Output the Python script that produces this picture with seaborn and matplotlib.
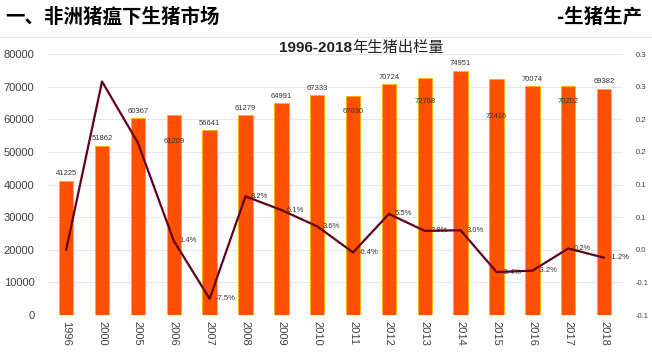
import numpy as np
import pandas as pd
import seaborn as sns
import matplotlib.pyplot as plt

# data
years = ['1996', '2000', '2005', '2006', '2007', '2008', '2009', '2010',
         '2011', '2012', '2013', '2014', '2015', '2016', '2017', '2018']
output = [41225, 51862, 60367, 61209, 56641, 61279, 64991, 67333,
          67030, 70724, 72768, 74951, 72416, 70074, 70202, 69382]
growth = [0.0, 0.258, 0.164, 0.014, -0.075, 0.082, 0.061, 0.036,
          -0.004, 0.055, 0.029, 0.030, -0.034, -0.032, 0.002, -0.012]
growth_labels = ['', '', '', '1.4%', '-7.5%', '8.2%', '6.1%', '3.6%',
                 '-0.4%', '5.5%', '2.9%', '3.0%', '-3.4%', '-3.2%', '0.2%', '-1.2%']
right_ticks = [-0.1, -0.05, 0.0, 0.05, 0.1, 0.15, 0.2, 0.25, 0.3]
right_tick_labels = ['-0.1', '-0.1', '0.0', '0.1', '0.1', '0.2', '0.2', '0.3', '0.3']

# label placement (points, vertical offset from bar top) - the original is a bit messy
bar_label_dy = [5, 5, 5, -19, 5, 5, 5, 5, -11, 5, -17, 5, -27, 5, -11, 5]

df = pd.DataFrame({'year': years, 'output': output, 'growth': growth})
df['pos'] = range(len(df))

sns.set_theme(style='white')
plt.rcParams['font.family'] = ['Liberation Sans', 'Noto Sans CJK SC', 'DejaVu Sans']

fig = plt.figure(figsize=(6.52, 3.56), dpi=100)
ax = fig.add_axes([0.074, 0.115, 0.88, 0.733])

sns.barplot(data=df, x='year', y='output', color='#FF5000', saturation=1,
            width=0.4, edgecolor='#FFB400', linewidth=0.6, ax=ax, zorder=2)
ax.set_ylim(0, 80000)
ax.set_yticks(range(0, 80001, 10000))
ax.yaxis.grid(True, color='#e6e6e6', linewidth=0.7)
ax.set_axisbelow(True)
ax.set_xlabel('')
ax.set_ylabel('')
ax.tick_params(axis='y', labelsize=8, labelcolor='#404040', length=0, pad=10)
ax.tick_params(axis='x', labelsize=8, labelcolor='#404040', length=0, pad=4)
for lab in ax.get_xticklabels():
    lab.set_rotation(-90)
for s in ax.spines.values():
    s.set_visible(False)

for i, v in enumerate(output):
    ax.annotate(str(v), (i, v), xytext=(0, bar_label_dy[i]), textcoords='offset points',
                ha='center', va='center', fontsize=5.5, color='#333333', zorder=5)

ax2 = ax.twinx()
sns.lineplot(data=df, x='pos', y='growth', color='#62001A', linewidth=1.6, ax=ax2, zorder=4)
ax2.set_ylim(-0.1, 0.3)
ax2.set_yticks(right_ticks)
ax2.set_yticklabels(right_tick_labels)
ax2.tick_params(axis='y', labelsize=5.5, labelcolor='#404040', length=0, pad=10)
ax2.set_ylabel('')
ax2.set_xlabel('')
for s in ax2.spines.values():
    s.set_visible(False)
ax.set_xlim(-0.5, len(years) - 0.5)

for i, t in enumerate(growth_labels):
    if t:
        ax2.annotate(t, (i, growth[i]), xytext=(4, 0), textcoords='offset points',
                     ha='left', va='center', fontsize=5.5, color='#333333')

# header
fig.text(0.008, 0.952, '一、非洲猪瘟下生猪市场', fontsize=14, fontweight='bold',
         family=['Noto Sans CJK SC'], ha='left', va='center', color='black')
fig.text(0.985, 0.952, '-生猪生产', fontsize=14, fontweight='bold',
         family=['Noto Sans CJK SC'], ha='right', va='center', color='black')
fig.add_artist(plt.Line2D([0, 1], [0.896, 0.896], color='#e8e8e8', linewidth=0.8))

fig.text(0.54, 0.866, '1996-2018', fontsize=11, fontweight='bold', ha='right', va='center',
         color='#222222')
fig.text(0.54, 0.866, '年生猪出栏量', fontsize=11, family=['Noto Sans CJK SC'],
         ha='left', va='center', color='#222222')

fig.savefig('out.png', dpi=100)
